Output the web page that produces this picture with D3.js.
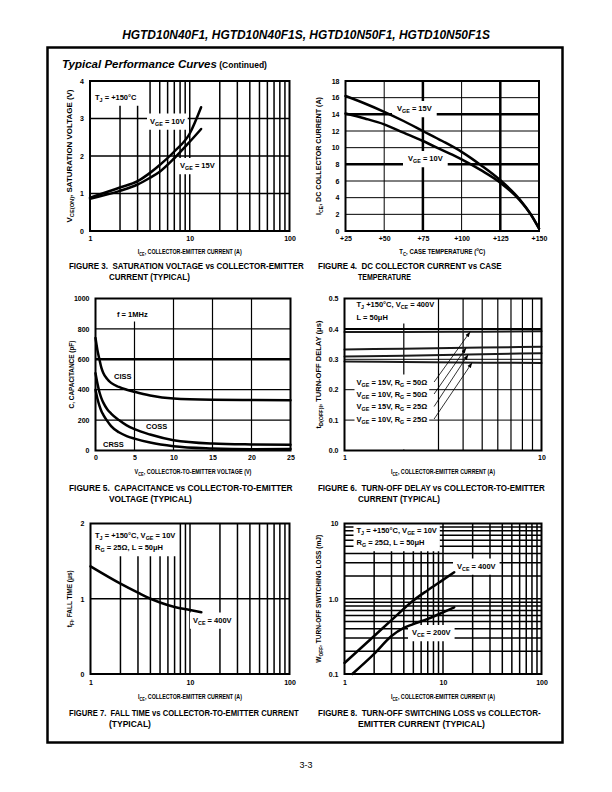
<!DOCTYPE html>
<html><head><meta charset="utf-8">
<script src="https://cdn.jsdelivr.net/npm/d3@7"></script>
<style>body{margin:0;background:#fff}svg{display:block}</style>
</head><body>
<script>
// ================= DATA =================
const headerTitle = "HGTD10N40F1, HGTD10N40F1S, HGTD10N50F1, HGTD10N50F1S";
const sectionTitle = "Typical Performance Curves";
const sectionSub = " (Continued)";
const pageNumber = "3-3";

// Figure 3 – saturation voltage vs collector-emitter current
const fig3Current = [1, 2, 3, 4, 5, 7, 10, 13];
const fig3Vge10 = [0.89, 1.16, 1.33, 1.55, 1.76, 2.12, 2.6, 3.3];
const fig3Vge15 = [0.86, 1.07, 1.24, 1.42, 1.58, 1.94, 2.38, 2.72];
const fig3XTicks = [1, 10, 100], fig3XLabels = ["1", "10", "100"];
const fig3YTicks = [0, 1, 2, 3, 4], fig3YLabels = ["0", "1", "2", "3", "4"];

// Figure 4 – DC collector current vs case temperature
const fig4Temp = [25, 37.5, 50, 62.5, 75, 87.5, 100, 112.5, 125, 137.5, 145, 150];
const fig4Vge15 = [16.2, 15.3, 14.3, 13.2, 12.0, 10.8, 9.5, 7.9, 6.1, 3.8, 1.9, 0.3];
const fig4Vge10 = [14.1, 13.5, 12.8, 11.8, 10.8, 9.7, 8.6, 7.3, 5.8, 3.7, 1.9, 0.3];
const fig4XTicks = [25, 50, 75, 100, 125, 150], fig4XLabels = ["+25", "+50", "+75", "+100", "+125", "+150"];
const fig4YTicks = [0, 2, 4, 6, 8, 10, 12, 14, 16, 18], fig4YLabels = ["0", "2", "4", "6", "8", "10", "12", "14", "16", "18"];

// Figure 5 – capacitance vs collector-emitter voltage
const fig5Voltage = [0, 0.25, 0.5, 0.75, 1, 1.5, 2, 3, 4, 5, 7, 10, 15, 20, 25];
const fig5Ciss = [740, 660, 600, 545, 510, 470, 445, 418, 400, 386, 362, 342, 334, 332, 331];
const fig5Coss = [508, 440, 385, 345, 315, 272, 243, 200, 165, 140, 105, 68, 46, 40, 38];
const fig5Crss = [400, 340, 295, 260, 235, 195, 160, 120, 95, 78, 52, 28, 13, 8, 10];
const fig5XTicks = [0, 5, 10, 15, 20, 25], fig5XLabels = ["0", "5", "10", "15", "20", "25"];
const fig5YTicks = [0, 200, 400, 600, 800, 1000], fig5YLabels = ["0", "200", "400", "600", "800", "1000"];

// Figure 6 – turn-off delay vs collector-emitter current
const fig6Current = [1, 2, 5, 10];
const fig6Vge15Rg50 = [0.390, 0.390, 0.391, 0.392];
const fig6Vge10Rg50 = [0.332, 0.335, 0.339, 0.341];
const fig6Vge15Rg25 = [0.309, 0.312, 0.317, 0.320];
const fig6Vge10Rg25 = [0.293, 0.291, 0.289, 0.288];
const fig6Legend = ["V_{GE} = 15V, R_{G} = 50\u03A9", "V_{GE} = 10V, R_{G} = 50\u03A9", "V_{GE} = 15V, R_{G} = 25\u03A9", "V_{GE} = 10V, R_{G} = 25\u03A9"];
const fig6ArrowTargets = [4.35, 4.15, 4.25, 4.45];
const fig6ArrowStart = 2.85;
const fig6XTicks = [1, 10], fig6XLabels = ["1", "10"];
const fig6YTicks = [0, 0.1, 0.2, 0.3, 0.4, 0.5], fig6YLabels = ["0.0", "0.1", "0.2", "0.3", "0.4", "0.5"];

// Figure 7 – fall time vs collector-emitter current
const fig7Current = [1, 2, 3, 4, 5, 7, 10, 13];
const fig7Fall = [1.43, 1.2, 1.08, 1.0, 0.95, 0.89, 0.85, 0.82];
const fig7XTicks = [1, 10, 100], fig7XLabels = ["1", "10", "100"];
const fig7YTicks = [0, 1, 2], fig7YLabels = ["0", "1", "2"];

// Figure 8 – turn-off switching loss vs collector-emitter current
const fig8Current400 = [1, 2, 3, 5, 7, 10, 13];
const fig8Loss400 = [0.14, 0.32, 0.52, 0.95, 1.3, 1.78, 2.25];
const fig8Current200 = [1.2, 2, 3, 4, 5, 7, 10, 13];
const fig8Loss200 = [0.1, 0.185, 0.32, 0.41, 0.46, 0.54, 0.66, 0.77];
const fig8XTicks = [1, 10, 100], fig8XLabels = ["1", "10", "100"];
const fig8YTicks = [0.1, 1, 10], fig8YLabels = ["0.1", "1.0", "10"];

const logSteps1to100 = [2, 3, 4, 5, 6, 7, 8, 9, 10, 20, 30, 40, 50, 60, 70, 80, 90];
const logSteps1to10 = [2, 3, 4, 5, 6, 7, 8, 9];

// ================= RENDER =================
const F_REG = "'Liberation Sans', Arial, Helvetica, sans-serif";
const F_NAR = "'Liberation Sans Narrow', 'Arial Narrow', 'Liberation Sans', Arial, sans-serif";

const svg = d3.select("body").append("svg").attr("width", 612).attr("height", 792);
svg.append("rect").attr("width", 612).attr("height", 792).attr("fill", "#fff");
const defs = svg.append("defs");
defs.append("marker").attr("id", "arr").attr("viewBox", "0 0 10 10").attr("refX", 10).attr("refY", 5)
  .attr("markerWidth", 7).attr("markerHeight", 7).attr("orient", "auto")
  .append("path").attr("d", "M0,1.5 L10,5 L0,8.5 z").attr("fill", "#000");

const L = {
  grid: svg.append("g"), cover: svg.append("g"), curve: svg.append("g"),
  frame: svg.append("g"), text: svg.append("g")
};

// Rich text with _{sub} and ^{sup}; optional width fitted by horizontal scaling
function rich(x, y, str, o = {}) {
  const size = o.size || 7;
  const t = (o.parent || L.text).append("text").attr("x", 0).attr("y", 0)
    .attr("font-family", o.family || F_REG).attr("font-size", size)
    .attr("font-weight", o.weight || "bold").attr("font-style", o.italic ? "italic" : "normal")
    .attr("text-anchor", o.anchor || "start").attr("xml:space", "preserve").attr("fill", "#000");
  const re = /([_^])\{([^}]*)\}/g;
  let last = 0, cur = 0, m;
  const push = (s, off, small) => {
    if (!s) return;
    const ts = t.append("tspan").attr("dy", off - cur).text(s);
    if (small) ts.attr("font-size", size * 0.72);
    cur = off;
  };
  while ((m = re.exec(str))) {
    push(str.slice(last, m.index), 0, false);
    push(m[2], m[1] === "_" ? size * 0.3 : -size * 0.38, true);
    last = re.lastIndex;
  }
  push(str.slice(last), 0, false);
  let sx = 1;
  if (o.width) {
    const nat = t.node().getComputedTextLength();
    if (nat > 0) sx = o.width / nat;
  }
  let tr = `translate(${x},${y})`;
  if (o.rotate) tr += " rotate(-90)";
  if (sx !== 1) tr += ` scale(${sx.toFixed(4)},1)`;
  t.attr("transform", tr);
  return t;
}

function cover(nodes, pad, opts = {}) {
  let x0 = Infinity, y0 = Infinity, x1 = -Infinity, y1 = -Infinity;
  nodes.forEach(n => {
    const r = n.node().getBoundingClientRect();
    x0 = Math.min(x0, r.left); y0 = Math.min(y0, r.top);
    x1 = Math.max(x1, r.right); y1 = Math.max(y1, r.bottom);
  });
  const [px, py] = Array.isArray(pad) ? pad : [pad, pad];
  x0 -= px; x1 += px; y0 -= py; y1 += py;
  if (opts.top != null) y0 = opts.top;
  if (opts.bottom != null) y1 = opts.bottom;
  L.cover.append("rect").attr("x", x0).attr("y", y0).attr("width", x1 - x0).attr("height", y1 - y0).attr("fill", "#fff");
}

function vLines(c, vals, sw) {
  L.grid.selectAll(null).data(vals).join("line")
    .attr("x1", d => c.xs(d)).attr("x2", d => c.xs(d)).attr("y1", c.top).attr("y2", c.bottom)
    .attr("stroke", "#000").attr("stroke-width", sw);
}
function hLines(c, vals, sw) {
  L.grid.selectAll(null).data(vals).join("line")
    .attr("y1", d => c.ys(d)).attr("y2", d => c.ys(d)).attr("x1", c.left).attr("x2", c.right)
    .attr("stroke", "#000").attr("stroke-width", sw);
}
function curve(c, xsArr, ysArr, sw, color) {
  L.curve.append("path").datum(d3.zip(xsArr, ysArr))
    .attr("d", d3.line().x(d => c.xs(d[0])).y(d => c.ys(d[1])).curve(d3.curveMonotoneX))
    .attr("fill", "none").attr("stroke", color || "#000").attr("stroke-width", sw)
    .attr("stroke-linejoin", "round").attr("stroke-linecap", "round");
}

function chart(o) {
  const c = Object.assign({}, o);
  c.xs = (o.xLog ? d3.scaleLog() : d3.scaleLinear()).domain(o.xDomain).range([o.left, o.right]);
  c.ys = (o.yLog ? d3.scaleLog() : d3.scaleLinear()).domain(o.yDomain).range([o.bottom, o.top]);
  L.frame.append("rect").attr("x", o.left).attr("y", o.top).attr("width", o.right - o.left)
    .attr("height", o.bottom - o.top).attr("fill", "none").attr("stroke", "#000").attr("stroke-width", 2);
  const gx = L.text.append("g").attr("transform", `translate(0,${o.bottom})`)
    .call(d3.axisBottom(c.xs).tickValues(o.xTicks).tickFormat((d, i) => o.xLabels[i]).tickSize(0).tickPadding(o.padB));
  const gy = L.text.append("g").attr("transform", `translate(${o.left},0)`)
    .call(d3.axisLeft(c.ys).tickValues(o.yTicks).tickFormat((d, i) => o.yLabels[i]).tickSize(0).tickPadding(6));
  [gx, gy].forEach(g => {
    g.select(".domain").remove();
    g.attr("font-size", 7).attr("font-family", F_REG).attr("font-weight", "bold");
    g.selectAll("text").attr("fill", "#000");
  });
  rich((o.left + o.right) / 2, o.titleY, o.xTitle, { anchor: "middle", size: 7.5, width: o.xTitleW });
  rich(o.yTitleX, (o.top + o.bottom) / 2, o.yTitle, { anchor: "middle", size: 7.5, width: o.yTitleW, rotate: true });
  rich(o.capX, o.cap1Y, o.cap1, { size: 9.5, width: o.cap1W });
  rich(o.capX + 40, o.cap1Y + 11, o.cap2, { size: 9.5, width: o.cap2W });
  return c;
}

// ---------- page furniture ----------
rich(306, 39, headerTitle, { size: 12.5, italic: true, anchor: "middle", width: 368 });
L.frame.append("rect").attr("x", 47.5).attr("y", 47.5).attr("width", 515).attr("height", 695)
  .attr("fill", "none").attr("stroke", "#000").attr("stroke-width", 2.5);
const st = L.text.append("text").attr("x", 62).attr("y", 68).attr("font-family", F_REG)
  .attr("font-weight", "bold").attr("xml:space", "preserve");
st.append("tspan").attr("font-size", 11.5).attr("font-style", "italic").text(sectionTitle);
st.append("tspan").attr("font-size", 8.5).text(sectionSub);
rich(306, 768, pageNumber, { size: 9, weight: "normal", anchor: "middle" });

const rows = [
  { top: 81, bottom: 231, padB: 5, titleY: 253.5, cap1Y: 268.5 },
  { top: 298.5, bottom: 450.5, padB: 5, titleY: 473.5, cap1Y: 491 },
  { top: 523.5, bottom: 674, padB: 6.5, titleY: 698.5, cap1Y: 716 }
];

// ---------- Figure 3 ----------
const c3 = chart(Object.assign({}, rows[0], {
  left: 90, right: 289.5, xLog: true, xDomain: [1, 100], yDomain: [0, 4],
  xTicks: fig3XTicks, xLabels: fig3XLabels, yTicks: fig3YTicks, yLabels: fig3YLabels,
  xTitle: "I_{CE}, COLLECTOR-EMITTER CURRENT (A)", xTitleW: 104,
  yTitle: "V_{CE(ON)}, SATURATION VOLTAGE (V)", yTitleW: 133, yTitleX: 71.5,
  capX: 69, cap1: "FIGURE 3.  SATURATION VOLTAGE vs COLLECTOR-EMITTER", cap1W: 235,
  cap2: "CURRENT (TYPICAL)", cap2W: 81
}));
vLines(c3, logSteps1to100, 1.5);
hLines(c3, [1, 2, 3], 1.5);
curve(c3, fig3Current, fig3Vge10, 2.5);
curve(c3, fig3Current, fig3Vge15, 2.5);
{
  const a = rich(95, 99.5, "T_{J} = +150\u00B0C", { size: 7.5 });
  cover([a], 3, { top: c3.top });
  const b = rich(150, 123.5, "V_{GE} = 10V", { size: 7.5 });
  cover([b], [3, 3]);
  const d = rich(180, 168, "V_{GE} = 15V", { size: 7.5 });
  cover([d], [3, 3]);
}

// ---------- Figure 4 ----------
const c4 = chart(Object.assign({}, rows[0], {
  left: 345.5, right: 539, xDomain: [25, 150], yDomain: [0, 18],
  xTicks: fig4XTicks, xLabels: fig4XLabels, yTicks: fig4YTicks, yLabels: fig4YLabels,
  xTitle: "T_{C}, CASE TEMPERATURE (^{o}C)", xTitleW: 86,
  yTitle: "I_{CE}, DC COLLECTOR CURRENT (A)", yTitleW: 118, yTitleX: 320.5,
  capX: 318, cap1: "FIGURE 4.  DC COLLECTOR CURRENT vs CASE", cap1W: 184,
  cap2: "TEMPERATURE", cap2W: 53
}));
vLines(c4, [50, 100], 1);
vLines(c4, [75, 125], 2.5);
hLines(c4, [2, 4, 6, 10, 12, 16], 1);
hLines(c4, [8, 14], 2.5);
curve(c4, fig4Temp, fig4Vge15, 2.5);
curve(c4, fig4Temp, fig4Vge10, 2.5);
{
  const a = rich(397, 111, "V_{GE} = 15V", { size: 7.5 });
  cover([a], [5, 3]);
  const b = rich(408, 161, "V_{GE} = 10V", { size: 7.5 });
  cover([b], [5, 3]);
}

// ---------- Figure 5 ----------
const c5 = chart(Object.assign({}, rows[1], {
  left: 95.5, right: 290.5, xDomain: [0, 25], yDomain: [0, 1000],
  xTicks: fig5XTicks, xLabels: fig5XLabels, yTicks: fig5YTicks, yLabels: fig5YLabels,
  xTitle: "V_{CE}, COLLECTOR-TO-EMITTER VOLTAGE (V)", xTitleW: 117,
  yTitle: "C, CAPACITANCE (pF)", yTitleW: 68, yTitleX: 74,
  capX: 69, cap1: "FIGURE 5.  CAPACITANCE vs COLLECTOR-TO-EMITTER", cap1W: 224,
  cap2: "VOLTAGE (TYPICAL)", cap2W: 83
}));
vLines(c5, [5, 10, 15, 20], 1.2);
hLines(c5, [200, 400, 800], 1.2);
hLines(c5, [600], 2.5);
curve(c5, fig5Voltage, fig5Ciss, 2.5);
curve(c5, fig5Voltage, fig5Coss, 2.5);
curve(c5, fig5Voltage, fig5Crss, 2.5);
{
  const a = rich(117, 316.5, "f = 1MHz", { size: 7.5 });
  cover([a], 3, { top: c5.top });
  rich(114, 379, "CISS", { size: 7.5 });
  rich(146, 429, "COSS", { size: 7.5 });
  rich(103, 446.5, "CRSS", { size: 7.5 });
}

// ---------- Figure 6 ----------
const c6 = chart(Object.assign({}, rows[1], {
  left: 344.5, right: 541.5, xLog: true, xDomain: [1, 10], yDomain: [0, 0.5],
  xTicks: fig6XTicks, xLabels: fig6XLabels, yTicks: fig6YTicks, yLabels: fig6YLabels,
  xTitle: "I_{CE}, COLLECTOR-EMITTER CURRENT (A)", xTitleW: 104,
  yTitle: "t_{D(OFF)I}, TURN-OFF DELAY (\u03BCs)", yTitleW: 108, yTitleX: 320.5,
  capX: 318, cap1: "FIGURE 6.  TURN-OFF DELAY vs COLLECTOR-TO-EMITTER", cap1W: 227,
  cap2: "CURRENT (TYPICAL)", cap2W: 82
}));
vLines(c6, logSteps1to10, 1.2);
hLines(c6, [0.1, 0.2, 0.3], 1);
hLines(c6, [0.4], 2);
const fig6Series = [fig6Vge15Rg50, fig6Vge10Rg50, fig6Vge15Rg25, fig6Vge10Rg25];
fig6Series.forEach(s => curve(c6, fig6Current, s, 2, "#1a1a1a"));
{
  const a = rich(356.5, 307, "T_{J} +150\u00B0C, V_{CE} = 400V", { size: 7.5 });
  const b = rich(356.5, 319.5, "L = 50\u03BCH", { size: 7.5 });
  cover([a, b], [2, 2], { top: c6.top });
  const baseY = [384.5, 396.5, 409, 421.5];
  const labs = fig6Legend.map((t, i) => rich(356.5, baseY[i], t, { size: 7.5 }));
  cover(labs, [2, 3], { bottom: c6.bottom - 1 });
  const interp = (s, xv) => {
    const lx = fig6Current.map(Math.log10), t = Math.log10(xv);
    for (let i = 0; i < lx.length - 1; i++) if (t >= lx[i] && t <= lx[i + 1])
      return s[i] + (s[i + 1] - s[i]) * (t - lx[i]) / (lx[i + 1] - lx[i]);
    return s[s.length - 1];
  };
  fig6ArrowTargets.forEach((tx, i) => {
    L.text.append("line")
      .attr("x1", c6.xs(fig6ArrowStart)).attr("y1", baseY[i] - 2.5)
      .attr("x2", c6.xs(tx)).attr("y2", c6.ys(interp(fig6Series[i], tx)))
      .attr("stroke", "#000").attr("stroke-width", 0.8).attr("marker-end", "url(#arr)");
  });
}

// ---------- Figure 7 ----------
const c7 = chart(Object.assign({}, rows[2], {
  left: 90.5, right: 289.5, xLog: true, xDomain: [1, 100], yDomain: [0, 2],
  xTicks: fig7XTicks, xLabels: fig7XLabels, yTicks: fig7YTicks, yLabels: fig7YLabels,
  xTitle: "I_{CE}, COLLECTOR-EMITTER CURRENT (A)", xTitleW: 104,
  yTitle: "t_{FI}, FALL TIME (\u03BCs)", yTitleW: 57, yTitleX: 71.5,
  capX: 69, cap1: "FIGURE 7.  FALL TIME vs COLLECTOR-TO-EMITTER CURRENT", cap1W: 230,
  cap2: "(TYPICAL)", cap2W: 42
}));
vLines(c7, logSteps1to100, 1.5);
hLines(c7, [1], 1.5);
curve(c7, fig7Current, fig7Fall, 2.5);
{
  const a = rich(95, 537.5, "T_{J} = +150\u00B0C, V_{GE} = 10V", { size: 7.5 });
  const b = rich(95, 550, "R_{G} = 25\u03A9, L = 50\u03BCH", { size: 7.5 });
  cover([a, b], [3, 3], { top: c7.top });
  const d = rich(193, 622.5, "V_{CE} = 400V", { size: 7.5 });
  cover([d], [3, 3]);
}

// ---------- Figure 8 ----------
const c8 = chart(Object.assign({}, rows[2], {
  left: 344.5, right: 541.5, xLog: true, xDomain: [1, 100], yLog: true, yDomain: [0.1, 10],
  xTicks: fig8XTicks, xLabels: fig8XLabels, yTicks: fig8YTicks, yLabels: fig8YLabels,
  xTitle: "I_{CE}, COLLECTOR-EMITTER CURRENT (A)", xTitleW: 104,
  yTitle: "W_{OFF}, TURN-OFF SWITCHING LOSS (mJ)", yTitleW: 128, yTitleX: 320.5,
  capX: 318, cap1: "FIGURE 8.  TURN-OFF SWITCHING LOSS vs COLLECTOR-", cap1W: 223,
  cap2: "EMITTER CURRENT (TYPICAL)", cap2W: 127
}));
vLines(c8, logSteps1to100, 1.5);
hLines(c8, [0.2, 0.3, 0.4, 0.5, 0.6, 0.7, 0.8, 0.9, 1, 2, 3, 4, 5, 6, 7, 8, 9], 1.5);
curve(c8, fig8Current400, fig8Loss400, 2.5);
curve(c8, fig8Current200, fig8Loss200, 2.5);
{
  const a = rich(356.5, 533, "T_{J} = +150\u00B0C, V_{GE} = 10V", { size: 7.5 });
  const b = rich(356.5, 545, "R_{G} = 25\u03A9, L = 50\u03BCH", { size: 7.5 });
  cover([a, b], [3, 3], { top: c8.top });
  const d = rich(457, 568.5, "V_{CE} = 400V", { size: 7.5 });
  cover([d], [4, 3]);
  const e = rich(412, 635, "V_{CE} = 200V", { size: 7.5 });
  cover([e], [4, 3]);
}
</script>
</body></html>
